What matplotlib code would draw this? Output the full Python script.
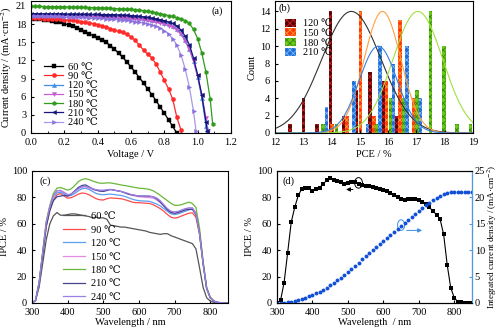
import numpy as np
import matplotlib
matplotlib.use('Agg')
import matplotlib.pyplot as plt
from matplotlib.patches import Ellipse, Patch
from matplotlib.ticker import MultipleLocator

plt.rcParams['font.family'] = ['Liberation Serif', 'DejaVu Serif', 'DejaVu Sans']
plt.rcParams['mathtext.fontset'] = 'stix'
plt.rcParams['font.size'] = 7.5
plt.rcParams['xtick.direction'] = 'in'
plt.rcParams['ytick.direction'] = 'in'
plt.rcParams['xtick.major.size'] = 2.5
plt.rcParams['ytick.major.size'] = 2.5
plt.rcParams['xtick.minor.size'] = 1.5
plt.rcParams['ytick.minor.size'] = 1.5
plt.rcParams['axes.linewidth'] = 0.8
plt.rcParams['hatch.linewidth'] = 0.6

# ---- (a) J-V curves, current sampled every 0.025 V, last point at Voc ----
dv = 0.025
temps = ['60 ℃', '90 ℃', '120 ℃', '150 ℃', '180 ℃', '210 ℃', '240 ℃']
j60 = [18.8, 18.78, 18.75, 18.7, 18.6, 18.5, 18.4, 18.25, 18.05, 17.85, 17.6, 17.35,
       17.05, 16.75, 16.4, 16.05, 15.7, 15.35, 15.0, 14.45, 13.85, 13.2, 12.5, 11.75,
       10.9, 10.05, 9.15, 8.25, 7.3, 6.35, 5.35, 4.3, 3.25, 2.2, 1.1, 0.0]
j90 = [19.0, 19.0, 18.95, 18.9, 18.9, 18.85, 18.8, 18.8, 18.7, 18.65, 18.6, 18.5,
       18.4, 18.3, 18.2, 18.05, 17.9, 17.7, 17.5, 17.25, 17.0, 16.8, 16.6, 16.3,
       15.9, 15.3, 14.5, 13.7, 13.0, 12.4, 11.4, 10.1, 8.7, 7.3, 5.6, 2.6, 0.5]
j120 = [19.55, 19.55, 19.54, 19.54, 19.53, 19.52, 19.51, 19.5, 19.49, 19.48, 19.47,
        19.46, 19.44, 19.42, 19.4, 19.38, 19.36, 19.34, 19.32, 19.3, 19.28,
        19.25, 19.22, 19.18, 19.14, 19.08, 19.01, 18.93, 18.84, 18.72, 18.58, 18.42,
        18.22, 18.0, 17.7, 17.25, 16.5, 15.4, 13.9, 11.9, 9.2, 5.8, 1.2]
j150 = [19.3, 19.3, 19.29, 19.29, 19.28, 19.27, 19.26, 19.25, 19.24, 19.23, 19.22,
        19.2, 19.18, 19.16, 19.14, 19.12, 19.1, 19.08, 19.06, 19.04, 19.02,
        18.99, 18.96, 18.92, 18.88, 18.82, 18.75, 18.67, 18.58, 18.46, 18.33, 18.17,
        17.98, 17.75, 17.45, 17.0, 16.3, 15.2, 13.8, 11.9, 9.4, 6.3, 2.4]
j180 = [20.9, 20.9, 20.9, 20.89, 20.88, 20.87, 20.86, 20.85, 20.84, 20.82, 20.8,
        20.78, 20.76, 20.74, 20.72, 20.7, 20.68, 20.65, 20.62, 20.59, 20.55,
        20.52, 20.48, 20.44, 20.4, 20.35, 20.28, 20.2, 20.1, 19.98, 19.85, 19.7,
        19.55, 19.4, 19.25, 19.05, 18.85, 18.55, 18.1, 17.1, 15.6, 13.2, 10.0, 5.6]
j210 = [19.7, 19.7, 19.7, 19.69, 19.69, 19.68, 19.68, 19.67, 19.66, 19.65, 19.64,
        19.63, 19.62, 19.61, 19.6, 19.59, 19.58, 19.57, 19.56, 19.55, 19.54,
        19.51, 19.48, 19.45, 19.4, 19.34, 19.27, 19.19, 19.1, 18.98, 18.85, 18.72,
        18.55, 18.35, 18.1, 17.7, 17.0, 16.0, 14.6, 12.4, 9.6, 6.2, 1.8]
j240 = [19.35, 19.34, 19.33, 19.32, 19.31, 19.3, 19.28, 19.26, 19.24, 19.22, 19.2,
        19.17, 19.14, 19.1, 19.06, 19.02, 18.98, 18.93, 18.88, 18.83, 18.78,
        18.72, 18.65, 18.58, 18.5, 18.4, 18.3, 18.17, 18.02, 17.83, 17.6, 17.3,
        16.9, 16.35, 15.6, 14.5, 12.9, 10.6, 7.6, 3.6]
# final (V, J) point of each curve
jv_end = [None, None, (1.053, 0.3), (1.06, 0.3), (1.09, 1.5), (1.057, 0.4), (0.99, 0.4)]
jv_curves = [j60, j90, j120, j150, j180, j210, j240]
jv_colors = ['black', '#ff2a2a', '#3c8ee6', '#c85ccf', '#2f9a1c', '#15157a', '#8a70de']
jv_line_colors = ['black', '#ff2a2a', '#3c8ee6', '#c85ccf', '#2f9a1c', '#15157a', '#a899e8']
jv_markers = ['s', 'o', '^', 'v', 'h', '<', '>']

# ---- (b) PCE histograms ----
hist_temps = ['120 ℃', '150 ℃', '180 ℃', '210 ℃']
pce_120 = [12.53, 13.01, 13.48, 13.96, 14.43, 14.88, 15.36, 15.83, 16.3]
cnt_120 = [1, 4, 1, 14, 2, 5, 7, 6, 2]
pce_150 = [14.02, 14.55, 15.02, 15.5, 15.95, 16.42, 16.9]
cnt_150 = [1, 2, 14, 2, 6, 13, 4]
pce_180 = [13.7, 14.17, 15.6, 16.1, 16.54, 17.02, 17.49, 17.97, 18.44, 18.92]
cnt_180 = [1, 1, 1, 4, 4, 5, 14, 10, 1, 1]
pce_210 = [13.82, 14.79, 15.26, 15.71, 16.19, 16.66, 17.14]
cnt_210 = [3, 6, 1, 10, 8, 10, 4]
# Gaussian fits: centre, amplitude, width
fit_center = [14.7, 15.8, 17.05, 15.65]
fit_amp = [14, 14, 14, 10]
fit_sigma = [1.05, 0.65, 0.88, 0.67]
bar_face = ['#5a0505', '#ff3a0a', '#6cc81a', '#1f6fd6']
bar_hatch = ['#d02020', '#ff9a30', '#2f8a0a', '#7fb8ff']
fit_colors = ['#333333', '#ffa040', '#a0e040', '#3a7fe0']

# ---- (c) IPCE spectra, 300-850 nm every 10 nm ----
wl = np.arange(300, 851, 10)
ipce60 = [0, 2, 12, 30, 48, 60, 66, 68.5, 66.5, 66.5, 67, 67.5, 67.5, 67, 66.5, 66,
          65.5, 64.5, 65, 64.5, 64.5, 63.5, 59, 58.5, 58, 57.5, 57.5, 57, 56.5, 56,
          55.5, 55, 54.5, 53.5, 53, 52.5, 52, 52.5, 52.5, 51, 50, 49, 48, 47, 46, 45,
          41, 27, 12, 4, 1.5, 0.5, 0.2, 0.1, 0, 0]
ipce90 = [0, 2, 15, 37, 58, 70, 78, 82, 83, 81, 79.4, 79.8, 81, 82.5, 83.3, 83, 82,
          80.5, 79, 78.2, 78, 79, 79.6, 79.4, 79.2, 79, 78.3, 77.5, 76.5, 76, 76, 75.8,
          75.6, 75.4, 74.5, 73, 71.5, 69.5, 67, 65, 64.3, 64.8, 66, 67, 68, 68.3, 65,
          52, 30, 11, 4, 1.5, 0.5, 0.2, 0.1, 0]
ipce120 = [0, 2, 15.5, 38, 60, 72, 80, 83.5, 84, 82.5, 81, 81.5, 83, 85, 86.5, 87, 86,
           84.5, 83, 82.3, 82, 82.3, 82.5, 82.2, 81.8, 81.5, 80.8, 79.8, 78.8, 78, 77.5,
           77.3, 77.2, 77, 76, 75, 73.5, 71.5, 69.5, 67.5, 67, 67.5, 68.5, 69.5, 70.5,
           71, 68, 54, 31, 11.5, 4.2, 1.5, 0.5, 0.2, 0.1, 0]
ipce150 = [0, 2, 15.5, 38, 61, 73, 81, 85, 85.5, 84, 82, 82.5, 84.5, 86.5, 87.8, 88, 87,
           86, 85.3, 85, 85, 85.5, 86, 85.5, 85, 84.5, 83.5, 82.5, 81.5, 81, 80.5, 80.3,
           80, 79.8, 79.5, 78, 76, 73.5, 71, 68.5, 68, 68.5, 69.5, 71, 72, 72, 68.5, 54,
           31, 11.5, 4.2, 1.5, 0.5, 0.2, 0.1, 0]
ipce180 = [0, 2, 16, 39, 62, 74, 83, 87, 87.5, 86.5, 85.5, 86.5, 89, 92, 93.5, 94.2,
           93.5, 92.5, 91.5, 90.8, 90.7, 91, 91, 90.5, 90, 89.4, 89, 88.5, 88, 87.5, 87,
           86.8, 86.5, 86, 85, 83.4, 81.5, 79.5, 77.5, 75.5, 74, 74, 74.5, 75.5, 76.4,
           75.4, 72.4, 57, 32, 12, 4.5, 1.5, 0.5, 0.2, 0.1, 0]
ipce210 = [0, 2, 14.5, 36, 58, 70, 77.5, 80.5, 81, 81.5, 81, 82.5, 85, 87.5, 89, 89.5,
           88, 86.5, 85.5, 84.8, 84.5, 85.2, 86, 85.5, 85, 84.5, 83.5, 82.5, 82, 81.5,
           81, 81, 81, 80.8, 80.5, 79, 76.5, 73.5, 70.5, 68.5, 68, 68.5, 69.5, 70.5, 71,
           71, 67, 53, 30, 11, 4, 1.5, 0.5, 0.2, 0.1, 0]
ipce240 = [0, 2, 15.5, 38, 61, 73, 81.5, 85, 85, 83.5, 82, 82.5, 84.5, 86.5, 88, 88.5,
           87.5, 86.5, 85.8, 85.5, 85.5, 85.8, 86, 85.5, 85, 84.5, 83.8, 83, 82, 81.5,
           81, 81, 81, 81, 80.5, 79.5, 77.5, 74.5, 71.5, 69.5, 69, 69.5, 70.5, 71.5, 72,
           72, 67.5, 53, 30, 11, 4, 1.5, 0.5, 0.2, 0.1, 0]
ipce_curves = [ipce60, ipce90, ipce120, ipce150, ipce180, ipce210, ipce240]
ipce_colors = ['#555555', '#ff4a4a', '#5a9ef0', '#e08ce0', '#6ab838', '#45458e', '#9b7fe6']

# ---- (d) IPCE of best device and integrated current ----
ipce_best = [0, 2, 15.5, 38, 61, 72.5, 81.5, 86.5, 87.5, 87, 85, 86, 87.5, 90, 93, 94.5,
             93.5, 92.5, 91.5, 90.5, 91, 91.5, 91.5, 90.5, 89.5, 89, 88.5, 88, 87.5,
             86.5, 85.5, 84.5, 83, 81.5, 80, 78.5, 78, 78.5, 79, 78.5, 78, 76.5, 75, 72.5,
             69.5, 67, 63.5, 52, 29, 11.5, 4, 1, 0.5, 0.3, 0.2, 0]
jsc_int = [0.0, 0.01, 0.04, 0.1, 0.2, 0.34, 0.52, 0.74, 0.98, 1.24, 1.5, 1.8, 2.12,
           2.48, 2.88, 3.32, 3.8, 4.3, 4.82, 5.36, 5.92, 6.5, 7.08, 7.66, 8.24, 8.82,
           9.4, 9.98, 10.56, 11.14, 11.72, 12.3, 12.88, 13.44, 14.0, 14.56, 15.12,
           15.68, 16.26, 16.84, 17.4, 17.96, 18.5, 19.0, 19.48, 19.92, 20.32, 20.66,
           20.9, 21.02, 21.06, 21.08, 21.08, 21.08, 21.08, 21.08]

fig = plt.figure(figsize=(5, 3.28), dpi=100)
W, H = 500.0, 328.0
ax_a = fig.add_axes([31 / W, 195 / H, 200 / W, 132 / H])
ax_b = fig.add_axes([275 / W, 195 / H, 198 / W, 132 / H])
ax_c = fig.add_axes([32 / W, 25 / H, 196 / W, 132 / H])
ax_d = fig.add_axes([277 / W, 25 / H, 195 / W, 132 / H])

# (a)
for j, end, lab, c, lc, m in zip(jv_curves, jv_end, temps, jv_colors, jv_line_colors, jv_markers):
    v = list(np.arange(len(j)) * dv)
    jj = list(j)
    if end is not None:
        v.append(end[0])
        jj.append(end[1])
    ax_a.plot(v, jj, color=lc, lw=0.9, marker=m, ms=3, mfc=c, mec=c, mew=0.3, label=lab)
ax_a.set_xlim(0, 1.2)
ax_a.set_ylim(0, 21.8)
ax_a.xaxis.set_major_locator(MultipleLocator(0.2))
ax_a.xaxis.set_minor_locator(MultipleLocator(0.1))
ax_a.yaxis.set_major_locator(MultipleLocator(3))
ax_a.set_xlabel('Voltage / V', labelpad=2)
ax_a.set_ylabel('Current density / (mA·cm$^{-2}$)', labelpad=1)
ax_a.text(0.93, 0.96, '(a)', transform=ax_a.transAxes, ha='center', va='top')
ax_a.legend(loc='upper left', bbox_to_anchor=(0.04, 0.575), frameon=False,
            handlelength=1.8, handletextpad=0.5, labelspacing=0.0, borderpad=0)

# (b)
xs = np.linspace(12, 19, 300)
for pce, cnt, fc, hc in zip([pce_120, pce_150, pce_180, pce_210],
                            [cnt_120, cnt_150, cnt_180, cnt_210], bar_face, bar_hatch):
    ax_b.bar(pce, cnt, width=0.12, color=fc, edgecolor=hc, hatch='xxxxx', lw=0)
for mu, a, s, c in zip(fit_center, fit_amp, fit_sigma, fit_colors):
    ax_b.plot(xs, a * np.exp(-(xs - mu) ** 2 / (2 * s ** 2)), color=c, lw=0.8)
ax_b.set_xlim(12, 19)
ax_b.set_ylim(0, 15.2)
ax_b.xaxis.set_major_locator(MultipleLocator(1))
ax_b.yaxis.set_major_locator(MultipleLocator(2))
ax_b.set_xlabel('PCE / %', labelpad=2)
ax_b.set_ylabel('Count', labelpad=2)
ax_b.text(0.02, 0.985, '(b)', transform=ax_b.transAxes, ha='left', va='top')
handles = [Patch(facecolor=fc, edgecolor=hc, hatch='xxxxx', lw=0) for fc, hc in zip(bar_face, bar_hatch)]
ax_b.legend(handles, hist_temps, loc='upper left', bbox_to_anchor=(0.025, 0.905), frameon=False,
            handlelength=1.0, handleheight=0.8, handletextpad=0.75, labelspacing=0.0, borderpad=0)

# (c)
for y, lab, c in zip(ipce_curves, temps, ipce_colors):
    ax_c.plot(wl, y, color=c, lw=0.9, label=lab)
ax_c.set_xlim(300, 850)
ax_c.set_ylim(0, 100)
ax_c.xaxis.set_major_locator(MultipleLocator(100))
ax_c.yaxis.set_major_locator(MultipleLocator(20))
ax_c.set_xlabel('Wavelength / nm', labelpad=1)
ax_c.set_ylabel('IPCE / %', labelpad=2)
ax_c.text(0.04, 0.96, '(c)', transform=ax_c.transAxes, ha='left', va='top')
ax_c.legend(loc='upper left', bbox_to_anchor=(0.13, 0.73), frameon=False,
            handlelength=2.1, handletextpad=0.6, labelspacing=0.4, borderpad=0)

# (d)
ax_d.plot(wl, ipce_best, color='black', lw=0.8, marker='s', ms=2.6, mew=0)
ax_d.set_xlim(300, 850)
ax_d.set_ylim(0, 100)
ax_d.xaxis.set_major_locator(MultipleLocator(100))
ax_d.yaxis.set_major_locator(MultipleLocator(20))
ax_d.set_xlabel('Wavelength  / nm', labelpad=1)
ax_d.set_ylabel('IPCE / %', labelpad=2)
ax_d.text(0.03, 0.96, '(d)', transform=ax_d.transAxes, ha='left', va='top')
ax_d2 = ax_d.twinx()
ax_d2.plot(wl, jsc_int, color='#1050d8', lw=0, marker='o', ms=2.8, mew=0)
ax_d2.set_ylim(0, 25)
ax_d2.yaxis.set_major_locator(MultipleLocator(5))
ax_d2.spines['right'].set_color('#4d9be8')
ax_d2.tick_params(axis='y', direction='in', colors='#4d9be8', labelcolor='black', pad=2)
ax_d2.set_ylabel('Integrated current density / (mA·cm$^{-2}$)', fontsize=6.6, labelpad=0.5)
ax_d.add_patch(Ellipse((530, 91), 22, 8, fill=False, ec='black', lw=0.7))
ax_d.annotate('', xy=(487, 86), xytext=(522, 86),
              arrowprops=dict(arrowstyle='-|>', color='black', lw=0.7, mutation_scale=6))
ax_d.add_patch(Ellipse((650, 59), 20, 8, fill=False, ec='#3a8ee8', lw=0.7))
ax_d.annotate('', xy=(717, 55), xytext=(658, 55),
              arrowprops=dict(arrowstyle='-|>', color='#3a8ee8', lw=0.7, mutation_scale=6))

fig.savefig('out.png', dpi=100)
